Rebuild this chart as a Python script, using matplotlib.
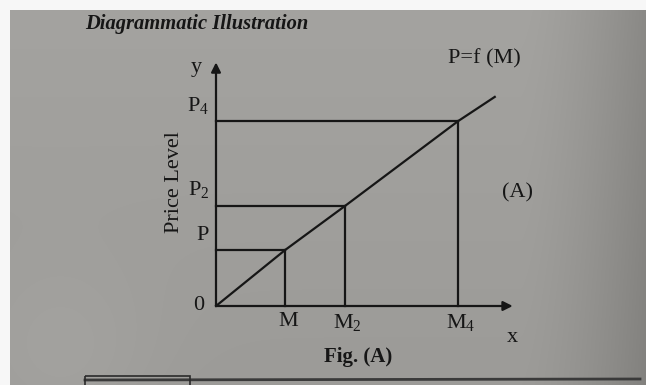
import numpy as np
import matplotlib
matplotlib.use("Agg")
import matplotlib.pyplot as plt

# Quantity of money and the price level it produces
money_levels = [1.0, 1.87, 3.51]
money_labels = ["M", "M$_2$", "M$_4$"]
price_levels = [0.81, 1.45, 2.68]
price_labels = ["P", "P$_2$", "P$_4$"]

# P = f(M) curve, running from the origin through the three points
curve_money = [0.0, 1.0, 1.87, 3.51, 4.04]
curve_price = [0.0, 0.81, 1.45, 2.68, 3.03]

W, H = 646, 385
plt.rcParams["font.family"] = ["Liberation Serif", "DejaVu Serif"]
plt.rcParams["mathtext.fontset"] = "custom"
plt.rcParams["mathtext.rm"] = "Liberation Serif"
plt.rcParams["mathtext.it"] = "Liberation Serif:italic"
plt.rcParams["mathtext.default"] = "regular"
fig = plt.figure(figsize=(W / 100, H / 100), dpi=100)

# paper background
bg = fig.add_axes([0, 0, 1, 1])
bg.set_xlim(0, W)
bg.set_ylim(H, 0)
bg.axis("off")
yy, xx = np.mgrid[0:H, 0:W]
base = 164 - 26 * np.clip((xx - 520) / 126, 0, 1) ** 1.5
base = base - 8 * (yy / H) + 6 * np.exp(-((xx - 60) ** 2 + (yy - 360) ** 2) / 9000)
img = np.stack([base, base - 1, base - 4], axis=-1) / 255.0
img = np.clip(img, 0, 1)
img[:10, :, :] = 0.97
img[:, :10, :] = 0.97
bg.imshow(img, extent=(0, W, H, 0), aspect="auto", zorder=0)
bg.plot([85, 640], [380, 379], color="#3a3a3a", lw=2.0, zorder=1)
bg.add_patch(plt.Rectangle((85, 376), 105, 12, fill=False, ec="#2a2a2a", lw=1.2, zorder=1))

ink = "#161616"

# chart axes: origin at the lower-left corner
ax = fig.add_axes([216 / W, 1 - 306 / H, 296.7 / W, 243.6 / H])
ax.set_xlim(0, 4.3)
ax.set_ylim(0, 3.53)
ax.patch.set_alpha(0)
for s in ax.spines.values():
    s.set_visible(False)
ax.set_xticks([])
ax.set_yticks([])

lw = 1.6
ax.annotate("", xy=(4.3, 0), xytext=(0, 0),
            arrowprops=dict(arrowstyle="-|>", color=ink, lw=lw, mutation_scale=14,
                            shrinkA=0, shrinkB=0), annotation_clip=False)
ax.annotate("", xy=(0, 3.53), xytext=(0, 0),
            arrowprops=dict(arrowstyle="-|>", color=ink, lw=lw, mutation_scale=14,
                            shrinkA=0, shrinkB=0), annotation_clip=False)

ax.plot(curve_money, curve_price, color=ink, lw=lw, clip_on=False)
for m, p in zip(money_levels, price_levels):
    ax.plot([0, m], [p, p], color=ink, lw=lw, clip_on=False)
    ax.plot([m, m], [0, p], color=ink, lw=lw, clip_on=False)

fs = 16
for m, lab in zip(money_levels, money_labels):
    ax.text(m + 0.04, -0.08, lab, ha="center", va="top", fontsize=fs, color=ink)
for p, lab in zip(price_levels, price_labels):
    ax.text(-0.1, p + 0.08, lab, ha="right", va="bottom", fontsize=fs, color=ink)
ax.text(-0.17, 0.0, "0", ha="right", va="center", fontsize=fs, color=ink)
ax.text(-0.2, 3.45, "y", ha="right", va="center", fontsize=fs, color=ink)
ax.text(4.3, -0.45, "x", ha="center", va="center", fontsize=fs, color=ink)
ax.text(-0.6, 1.79, "Price Level", rotation=90, ha="center", va="center",
        fontsize=fs, color=ink)
ax.text(3.89, 3.58, "P=f (M)", ha="center", va="center", fontsize=fs, color=ink)
ax.text(4.37, 1.64, "(A)", ha="center", va="center", fontsize=fs, color=ink)

fig.text(358 / W, 1 - 357 / H, "Fig. (A)", ha="center", va="center",
         fontsize=15, fontweight="bold", color=ink)
fig.text(85 / W, 1 - 24 / H, "Diagrammatic Illustration", ha="left", va="center",
         fontsize=14.8, fontweight="bold", fontstyle="italic", color=ink)

fig.savefig("out.png", dpi=100)
